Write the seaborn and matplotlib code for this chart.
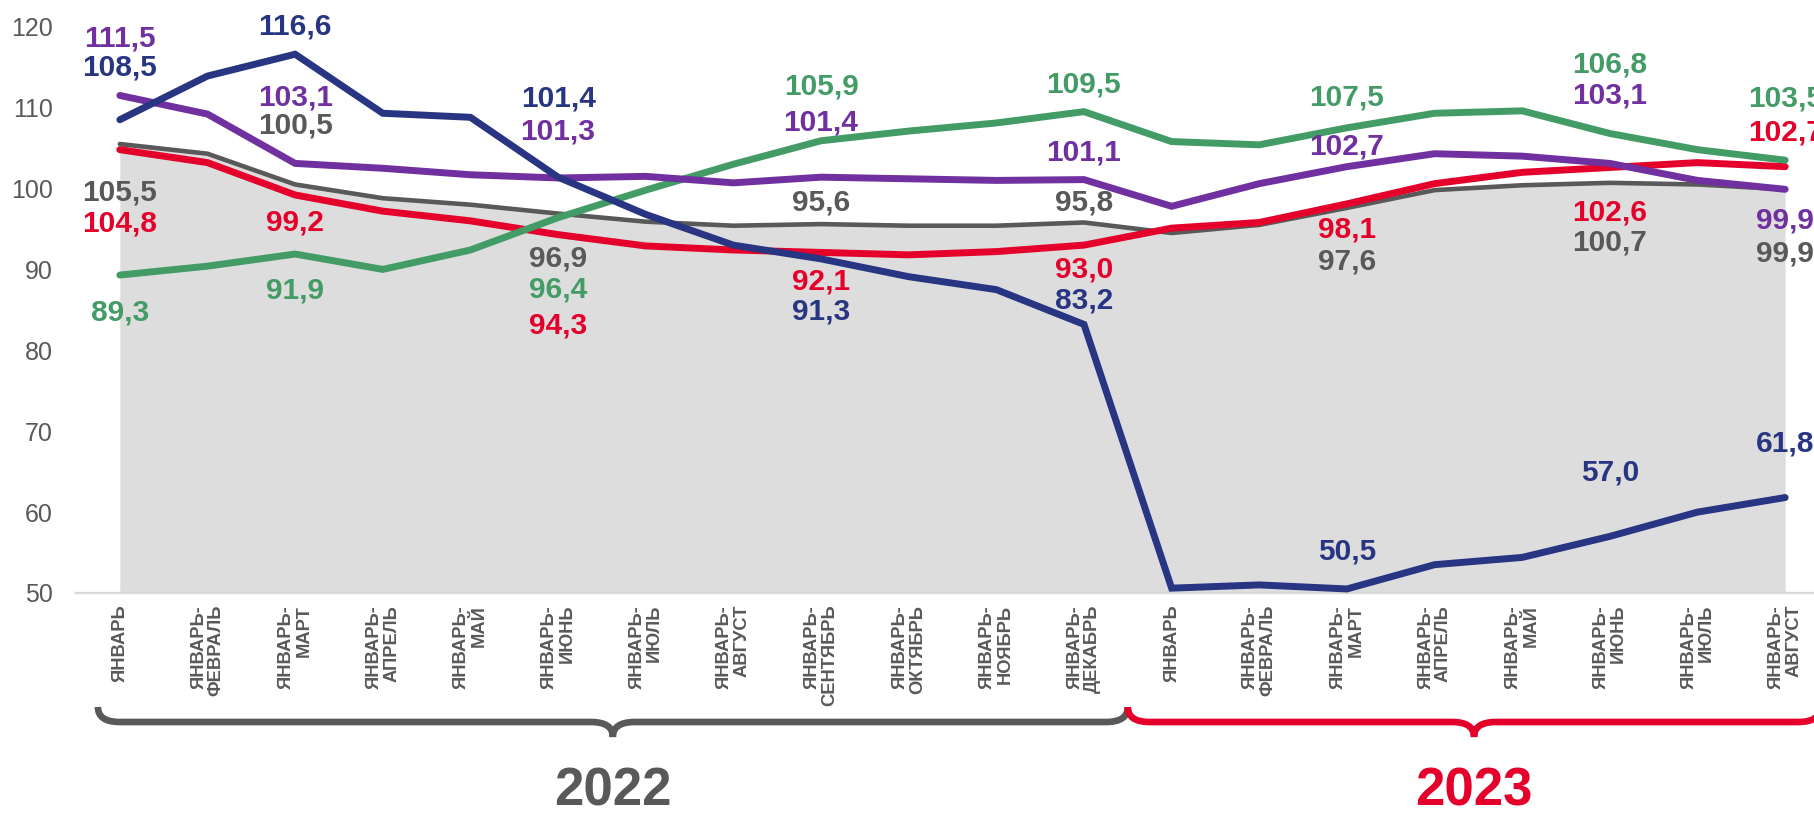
import numpy as np
import pandas as pd
import matplotlib
matplotlib.use('Agg')
import matplotlib.pyplot as plt
import seaborn as sns
from matplotlib import font_manager
from matplotlib.path import Path
from matplotlib.patches import PathPatch
from matplotlib.transforms import blended_transform_factory

sns.set_style('white')
plt.rcParams['font.family'] = ['Liberation Sans', 'DejaVu Sans']

# подписи месяцев (нарастающим итогом)
months = ['ЯНВАРЬ', 'ЯНВАРЬ-\nФЕВРАЛЬ', 'ЯНВАРЬ-\nМАРТ', 'ЯНВАРЬ-\nАПРЕЛЬ', 'ЯНВАРЬ-\nМАЙ',
          'ЯНВАРЬ-\nИЮНЬ', 'ЯНВАРЬ-\nИЮЛЬ', 'ЯНВАРЬ-\nАВГУСТ', 'ЯНВАРЬ-\nСЕНТЯБРЬ',
          'ЯНВАРЬ-\nОКТЯБРЬ', 'ЯНВАРЬ-\nНОЯБРЬ', 'ЯНВАРЬ-\nДЕКАБРЬ',
          'ЯНВАРЬ', 'ЯНВАРЬ-\nФЕВРАЛЬ', 'ЯНВАРЬ-\nМАРТ', 'ЯНВАРЬ-\nАПРЕЛЬ', 'ЯНВАРЬ-\nМАЙ',
          'ЯНВАРЬ-\nИЮНЬ', 'ЯНВАРЬ-\nИЮЛЬ', 'ЯНВАРЬ-\nАВГУСТ']
years = ['2022', '2023']

# ряды
navy = [108.5, 113.9, 116.6, 109.3, 108.8, 101.4, 96.8, 93.0, 91.3, 89.1, 87.5, 83.2,
        50.6, 51.0, 50.5, 53.5, 54.4, 57.0, 60.0, 61.8]
purple = [111.5, 109.2, 103.1, 102.5, 101.7, 101.3, 101.5, 100.7, 101.4, 101.2, 101.0, 101.1,
          97.8, 100.6, 102.7, 104.3, 104.0, 103.1, 101.0, 99.9]
gray = [105.5, 104.3, 100.5, 98.8, 98.0, 96.9, 95.9, 95.4, 95.6, 95.4, 95.4, 95.8,
        94.5, 95.5, 97.6, 99.8, 100.4, 100.7, 100.5, 99.9]
red = [104.8, 103.2, 99.2, 97.2, 96.0, 94.3, 92.9, 92.4, 92.1, 91.8, 92.2, 93.0,
       95.1, 95.8, 98.1, 100.6, 102.0, 102.6, 103.2, 102.7]
green = [89.3, 90.4, 91.9, 90.0, 92.4, 96.4, 99.8, 103.0, 105.9, 107.1, 108.1, 109.5,
         105.8, 105.4, 107.5, 109.3, 109.6, 106.8, 104.8, 103.5]

colors = {'navy': '#283583', 'purple': '#7030A0', 'gray': '#595959',
          'red': '#E4002B', 'green': '#439B66'}
series = {'gray': gray, 'red': red, 'green': green, 'purple': purple, 'navy': navy}

# подписи значений: (ряд, индекс точки, смещение в пикселях)
labels = [('purple', 0, 57), ('navy', 0, 52), ('gray', 0, -48), ('red', 0, -74), ('green', 0, -37),
          ('navy', 2, 28), ('purple', 2, 66), ('gray', 2, 59), ('red', 2, -28), ('green', 2, -36),
          ('navy', 5, 79), ('purple', 5, 46), ('gray', 5, -45), ('green', 5, -72), ('red', 5, -91),
          ('green', 8, 54), ('purple', 8, 55), ('gray', 8, 22), ('red', 8, -29), ('navy', 8, -53),
          ('green', 11, 27), ('purple', 11, 27), ('gray', 11, 20), ('red', 11, -24), ('navy', 11, 24),
          ('green', 14, 30), ('purple', 14, 20), ('red', 14, -26), ('gray', 14, -54), ('navy', 14, 37),
          ('green', 17, 69), ('purple', 17, 68), ('red', 17, -45), ('gray', 17, -60), ('navy', 17, 64),
          ('green', 19, 62), ('red', 19, 34), ('purple', 19, -31), ('gray', 19, -64), ('navy', 19, 54)]

# узкий шрифт для подписей месяцев, если есть
installed = {f.name for f in font_manager.fontManager.ttflist}
if 'Liberation Sans Narrow' in installed:
    tick_font, tick_size = ['Liberation Sans Narrow', 'DejaVu Sans'], 14.4
else:
    tick_font, tick_size = ['Liberation Sans', 'DejaVu Sans'], 13.2

x = np.arange(len(months))
W, H = 1814, 814
fig = plt.figure(figsize=(W / 100, H / 100), dpi=100)
ax = fig.add_axes([76 / W, 1 - 593 / H, (1829 - 76) / W, (593 - 26.7) / H])

# серая область под серым рядом
ax.fill_between(x, 50, gray, color='#DDDDDD', lw=0, zorder=1)

for name, vals in series.items():
    sns.lineplot(x=x, y=vals, ax=ax, color=colors[name],
                 linewidth=3.3 if name == 'gray' else 5.0, zorder=3,
                 solid_joinstyle='miter')

for name, i, dy in labels:
    v = series[name][i]
    ax.annotate(f'{v:.1f}'.replace('.', ','), (i, v), xytext=(0, dy),
                textcoords='offset pixels', ha='center', va='center',
                fontsize=21.5, fontweight='bold', color=colors[name],
                annotation_clip=False, zorder=5)

ax.set_xlim(-0.5, 19.5)
ax.set_ylim(50, 120)
ax.set_yticks(range(50, 121, 10))
ax.set_xticks(x)
ax.set_xticklabels(months, rotation=90, fontsize=tick_size, fontweight='bold', color='#595959',
                   family=tick_font, ha='center', va='top', multialignment='right',
                   linespacing=1.05)
ax.tick_params(axis='x', length=0, pad=8.5)
ax.tick_params(axis='y', length=0, pad=16.5, labelsize=18, labelcolor='#595959')
for s in ['top', 'right', 'left']:
    ax.spines[s].set_visible(False)
ax.spines['bottom'].set_color('#D9D9D9')
ax.spines['bottom'].set_linewidth(1.7)

# фигурные скобки по годам
tr = blended_transform_factory(ax.transData, fig.transFigure)
y_top, y_mid, y_tip = 1 - 707 / H, 1 - 722 / H, 1 - 737 / H


def brace(x0, x1, color):
    r = 0.25
    xc = (x0 + x1) / 2
    verts = [(x0, y_top), (x0, y_mid), (x0 + r, y_mid),
             (xc - r, y_mid), (xc, y_mid), (xc, y_tip),
             (xc, y_mid), (xc + r, y_mid),
             (x1 - r, y_mid), (x1, y_mid), (x1, y_top)]
    codes = [Path.MOVETO, Path.CURVE3, Path.CURVE3, Path.LINETO, Path.CURVE3, Path.CURVE3,
             Path.CURVE3, Path.CURVE3, Path.LINETO, Path.CURVE3, Path.CURVE3]
    ax.add_patch(PathPatch(Path(verts, codes), fill=False, edgecolor=color, lw=4.8,
                           transform=tr, clip_on=False, capstyle='butt'))
    return xc


xc1 = brace(-0.25, 11.5, '#595959')
xc2 = brace(11.5, 19.4, '#E4002B')
ax.text(xc1, 1 - 791 / H, years[0], transform=tr, ha='center', va='center',
        fontsize=38, fontweight='bold', color='#595959')
ax.text(xc2, 1 - 791 / H, years[1], transform=tr, ha='center', va='center',
        fontsize=38, fontweight='bold', color='#E4002B')

fig.savefig('out.png', dpi=100)
